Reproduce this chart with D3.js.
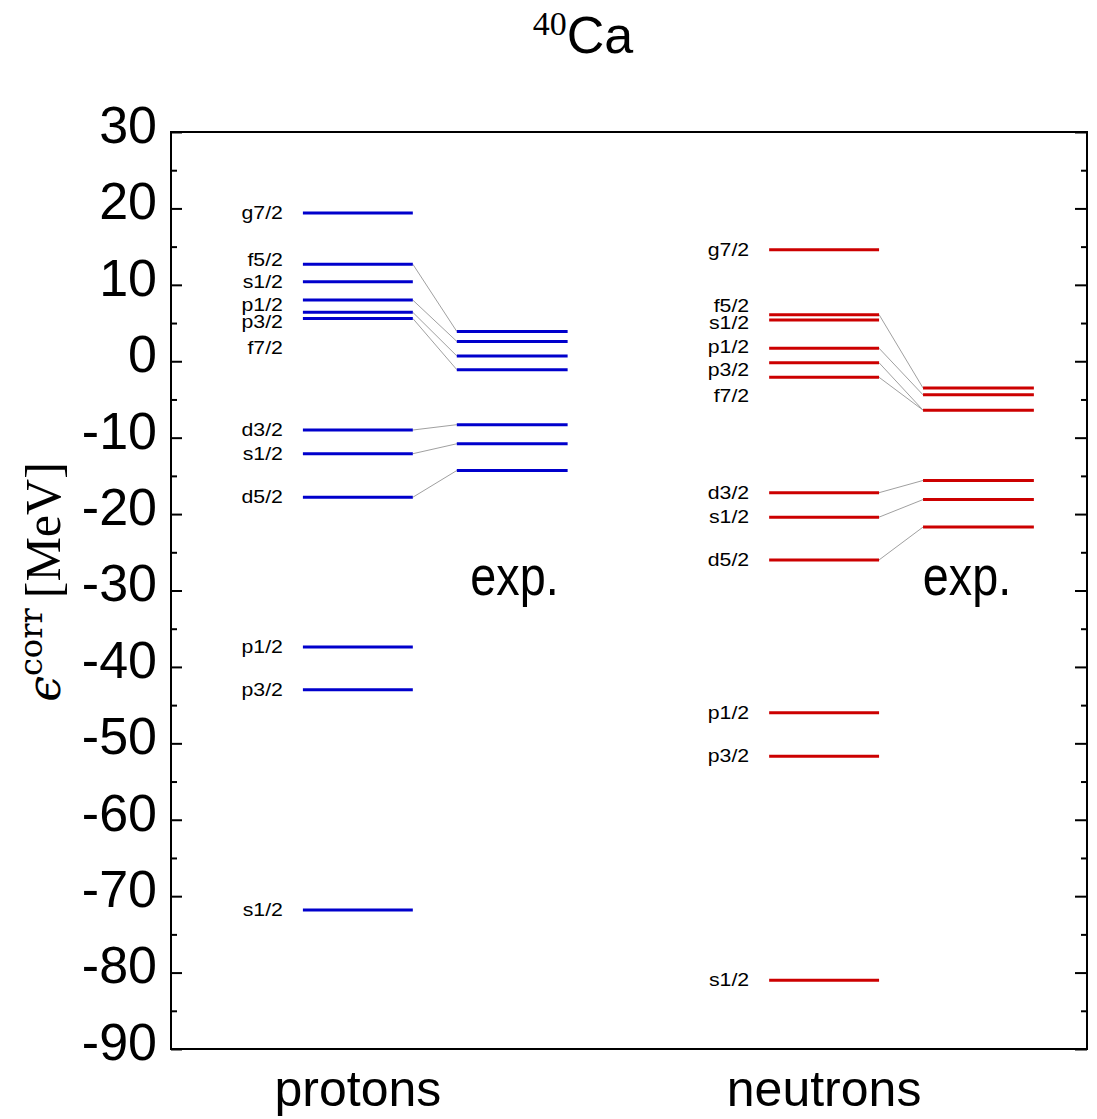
<!DOCTYPE html>
<meta charset="utf-8">
<style>
  body { margin: 0; background: #fff; }
  text { font-family: "Liberation Sans", Arial, sans-serif; fill: #000; }
  .frame { fill: none; stroke: #000; stroke-width: 2; }
  .axis path { display: none; }
  .axis line { stroke: #000; stroke-width: 2; }
  .link { stroke: #a0a0a0; stroke-width: 1; }
</style>
<svg width="1097" height="1119"></svg>
<script src="https://d3js.org/d3.v7.min.js"></script>
<script>
  // single-particle levels (MeV)
  var stateNames = ["g7/2", "f5/2", "s1/2", "p1/2", "p3/2", "f7/2", "d3/2", "s1/2", "d5/2", "p1/2", "p3/2", "s1/2"];

  var protonCalc = [19.4, 12.7, 10.4, 8.0, 6.4, 5.6, -9.0, -12.1, -17.8, -37.4, -43.0, -71.8];
  var protonLabelAt = [19.4, 13.2, 10.4, 7.3, 5.1, 1.7, -9.0, -12.1, -17.8, -37.4, -43.0, -71.8];
  var protonExp = [3.9, 2.6, 0.7, -1.1, -8.3, -10.8, -14.3];
  var protonLinks = [[1, 0], [3, 1], [4, 2], [5, 3], [6, 4], [7, 5], [8, 6]];

  var neutronCalc = [14.6, 6.1, 5.4, 1.7, -0.2, -2.1, -17.2, -20.4, -26.0, -46.0, -51.7, -81.0];
  var neutronLabelAt = [14.6, 7.2, 5.0, 1.9, -1.2, -4.5, -17.2, -20.4, -26.0, -46.0, -51.7, -81.0];
  var neutronExp = [-3.5, -4.4, -6.4, -15.6, -18.1, -21.7];
  var neutronLinks = [[1, 0], [3, 1], [4, 2], [5, 2], [6, 3], [7, 4], [8, 5]];

  var majorTicks = [30, 20, 10, 0, -10, -20, -30, -40, -50, -60, -70, -80, -90];
  var minorTicks = [25, 15, 5, -5, -15, -25, -35, -45, -55, -65, -75, -85];

  var svg = d3.select("svg");
  var plotL = 171, plotR = 1087, plotT = 132, plotB = 1049;

  var y = d3.scaleLinear().domain([-90, 30]).range([plotB, plotT]);
  // horizontal position in arbitrary units across the frame
  var x = d3.scaleLinear().domain([0, 100]).range([plotL, plotR]);

  var groups = [
    { calc: protonCalc, labelAt: protonLabelAt, exp: protonExp, links: protonLinks,
      c0: 14.4, c1: 26.4, e0: 31.2, e1: 43.3, color: "#0000cc", name: "protons", expX: 37.5 },
    { calc: neutronCalc, labelAt: neutronLabelAt, exp: neutronExp, links: neutronLinks,
      c0: 65.3, c1: 77.3, e0: 82.1, e1: 94.2, color: "#cc0000", name: "neutrons", expX: 86.9 }
  ];

  // frame
  svg.append("rect").attr("class", "frame")
    .attr("x", plotL).attr("y", plotT)
    .attr("width", plotR - plotL).attr("height", plotB - plotT);

  // left axis with labels, ticks pointing inward
  svg.append("g").attr("class", "axis")
    .attr("transform", "translate(" + plotL + ",0)")
    .call(d3.axisLeft(y).tickValues(majorTicks).tickSizeInner(-11).tickSizeOuter(0).tickPadding(14)
      .tickFormat(function(d) { return String(d); }))
    .selectAll("text")
    .attr("dy", "0.2em")
    .style("font-size", "52px");

  svg.append("g").attr("class", "axis")
    .attr("transform", "translate(" + plotL + ",0)")
    .call(d3.axisRight(y).tickValues(minorTicks).tickSize(6).tickFormat(""));

  svg.append("g").attr("class", "axis")
    .attr("transform", "translate(" + plotR + ",0)")
    .call(d3.axisLeft(y).tickValues(majorTicks).tickSize(12).tickFormat(""));

  svg.append("g").attr("class", "axis")
    .attr("transform", "translate(" + plotR + ",0)")
    .call(d3.axisLeft(y).tickValues(minorTicks).tickSize(6).tickFormat(""));

  groups.forEach(function(g) {
    var layer = svg.append("g");

    layer.selectAll(".link")
      .data(g.links)
      .enter().append("line")
      .attr("class", "link")
      .attr("x1", x(g.c1)).attr("x2", x(g.e0))
      .attr("y1", function(d) { return y(g.calc[d[0]]); })
      .attr("y2", function(d) { return y(g.exp[d[1]]); });

    layer.selectAll(".calc")
      .data(g.calc)
      .enter().append("line")
      .attr("x1", x(g.c0)).attr("x2", x(g.c1))
      .attr("y1", function(d) { return y(d); })
      .attr("y2", function(d) { return y(d); })
      .attr("stroke", g.color).attr("stroke-width", 3);

    layer.selectAll(".exp")
      .data(g.exp)
      .enter().append("line")
      .attr("x1", x(g.e0)).attr("x2", x(g.e1))
      .attr("y1", function(d) { return y(d); })
      .attr("y2", function(d) { return y(d); })
      .attr("stroke", g.color).attr("stroke-width", 3);

    layer.selectAll(".lab")
      .data(g.labelAt)
      .enter().append("text")
      .attr("transform", function(d) {
        return "translate(" + (x(g.c0) - 20) + "," + (y(d) + 6) + ") scale(1.15,1)";
      })
      .attr("text-anchor", "end")
      .style("font-size", "18.5px")
      .text(function(d, i) { return stateNames[i]; });

    svg.append("text")
      .attr("transform", "translate(" + x(g.expX) + ",595) scale(0.85,1)")
      .attr("text-anchor", "middle")
      .style("font-size", "55px")
      .text("exp.");

    svg.append("text")
      .attr("x", x((g.c0 + g.c1) / 2))
      .attr("y", 1106)
      .attr("text-anchor", "middle")
      .style("font-size", "50px")
      .text(g.name);
  });

  // title
  var title = svg.append("text").attr("x", 583).attr("y", 53).attr("text-anchor", "middle");
  title.append("tspan")
    .style("font-family", "'Liberation Serif', 'DejaVu Serif', serif")
    .style("font-size", "34px")
    .attr("dy", "-18")
    .text("40");
  title.append("tspan")
    .style("font-size", "52px")
    .attr("dy", "18")
    .text("Ca");

  // y-axis title
  var yt = svg.append("text")
    .attr("transform", "translate(60,582) rotate(-90)")
    .attr("text-anchor", "middle")
    .style("font-family", "'DejaVu Serif', 'Liberation Serif', serif")
    .style("font-size", "46px");
  yt.append("tspan").style("font-style", "italic").text("\u03f5");
  yt.append("tspan").style("font-size", "32px").attr("dy", "-18").text("corr");
  yt.append("tspan").style("font-family", "'Liberation Serif', serif").style("font-size", "50px")
    .attr("dy", "18").text("\u2009[MeV]");
</script>
